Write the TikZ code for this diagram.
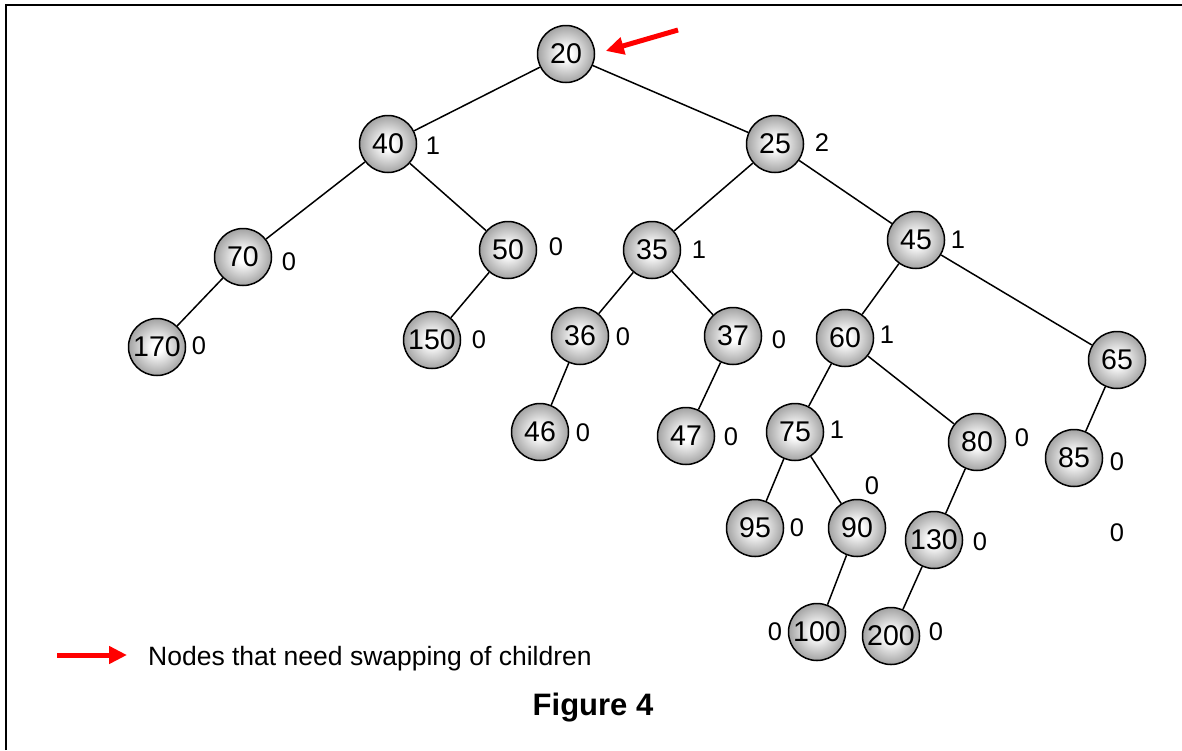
\documentclass[tikz,border=0pt]{standalone}
\usepackage{fontspec}
\setmainfont{Liberation Sans}
\usetikzlibrary{arrows.meta}
\pgfdeclareradialshading{ball}{\pgfpoint{0bp}{0bp}}{color(0bp)=(white); color(5bp)=(white); color(25bp)=(gray!72); color(50bp)=(gray!72)}
\tikzset{
  knot/.style={circle, draw, line width=1.5pt, minimum size=57pt, inner sep=0pt, shading=ball, font=\fontsize{28.5}{30}\selectfont},
  bal/.style={font=\fontsize{25.5}{28}\selectfont, inner sep=0pt},
  link/.style={line width=1.5pt},
  swaparrow/.style={red, line width=5pt, -{Triangle[length=18pt,width=17pt]}},
}

\begin{document}
\begin{tikzpicture}[x=1pt,y=-1pt]
\useasboundingbox (0,0) rectangle (1182,750);
% frame
\draw[line width=2pt] (6,750) -- (6,5) -- (1182,5);

% tree
\node[knot] (n20) at (566,54) {20};
\node[knot] (n40) at (388,144) {40};
\node[knot] (n25) at (775,144) {25};
\node[knot] (n70) at (243,257) {70};
\node[knot] (n50) at (508,250) {50};
\node[knot] (n35) at (652,250) {35};
\node[knot] (n45) at (916,240) {45};
\node[knot] (n170) at (157,347) {170};
\node[knot] (n150) at (432,340) {150};
\node[knot] (n36) at (580,336) {36};
\node[knot] (n37) at (733,336) {37};
\node[knot] (n60) at (845,338) {60};
\node[knot] (n65) at (1117,360) {65};
\node[knot] (n46) at (540,432) {46};
\node[knot] (n47) at (686,436) {47};
\node[knot] (n75) at (795,432) {75};
\node[knot] (n80) at (977,442) {80};
\node[knot] (n85) at (1074,458) {85};
\node[knot] (n95) at (755,528) {95};
\node[knot] (n90) at (857,528) {90};
\node[knot] (n130) at (934,540) {130};
\node[knot] (n100) at (817,632) {100};
\node[knot] (n200) at (891,636) {200};

\draw[link] (n20) -- (n40);
\draw[link] (n20) -- (n25);
\draw[link] (n40) -- (n70);
\draw[link] (n40) -- (n50);
\draw[link] (n25) -- (n35);
\draw[link] (n25) -- (n45);
\draw[link] (n70) -- (n170);
\draw[link] (n50) -- (n150);
\draw[link] (n35) -- (n36);
\draw[link] (n35) -- (n37);
\draw[link] (n45) -- (n60);
\draw[link] (n45) -- (n65);
\draw[link] (n36) -- (n46);
\draw[link] (n37) -- (n47);
\draw[link] (n60) -- (n75);
\draw[link] (n60) -- (n80);
\draw[link] (n65) -- (n85);
\draw[link] (n75) -- (n95);
\draw[link] (n75) -- (n90);
\draw[link] (n80) -- (n130);
\draw[link] (n90) -- (n100);
\draw[link] (n130) -- (n200);

% balance values
\node[bal] (b40) at (433,146) {1};
\node[bal] (b25) at (822,143) {2};
\node[bal] (b70) at (289,262) {0};
\node[bal] (b50) at (556,247) {0};
\node[bal] (b35) at (699,250) {1};
\node[bal] (b45) at (958,240) {1};
\node[bal] (b170) at (199,346) {0};
\node[bal] (b150) at (479,340) {0};
\node[bal] (b36) at (623,337) {0};
\node[bal] (b37) at (779,340) {0};
\node[bal] (b60) at (887,335) {1};
\node[bal] (b46) at (583,433) {0};
\node[bal] (b47) at (731,437) {0};
\node[bal] (b75) at (837,430) {1};
\node[bal] (b80) at (1022,438) {0};
\node[bal] (b85) at (1117,462) {0};
\node[bal] (b90) at (872,486) {0};
\node[bal] (b95) at (797,528) {0};
\node[bal] (b130) at (980,542) {0};
\node[bal] (b65) at (1117,533) {0};
\node[bal] (b100) at (775,632) {0};
\node[bal] (b200) at (936,632) {0};

% pointer and legend
\coordinate (ptrtail) at (678,30);
\draw[swaparrow, shorten >=11pt] (ptrtail) -- (n20.east);
\node[anchor=base west, inner sep=0pt, font=\fontsize{26.5}{30}\selectfont] (legtext) at (148,665) {Nodes that need swapping of children};
\coordinate (legtail) at (57,655);
\draw[swaparrow, shorten >=21pt] (legtail) -- (legtail -| legtext.west);
\node[font=\fontsize{31}{34}\selectfont\bfseries] (caption) at (593,708) {Figure 4};
\end{tikzpicture}
\end{document}
